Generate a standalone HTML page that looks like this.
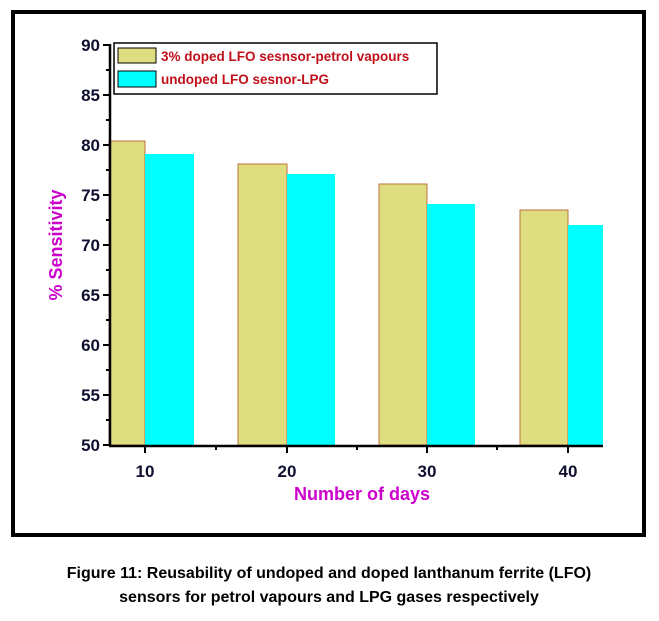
<!DOCTYPE html><html><head><style>body{margin:0;background:#fff;width:659px;height:616px;overflow:hidden}</style></head><body>
<svg width="659" height="616" xmlns="http://www.w3.org/2000/svg" font-family="Liberation Sans, sans-serif">
<rect x="13" y="12" width="631" height="523" fill="#fff" stroke="#000" stroke-width="4"/>
<g stroke="#c07040" stroke-width="1">
<rect x="109" y="141" width="36" height="304" fill="#dede80"/>
<rect x="145" y="154" width="49" height="291" fill="#00ffff" stroke="none"/>
<rect x="238" y="164" width="49" height="281" fill="#dede80"/>
<rect x="287" y="174" width="48" height="271" fill="#00ffff" stroke="none"/>
<rect x="379" y="184" width="48" height="261" fill="#dede80"/>
<rect x="427" y="204" width="48" height="241" fill="#00ffff" stroke="none"/>
<rect x="520" y="210" width="48" height="235" fill="#dede80"/>
<rect x="568" y="225" width="35" height="220" fill="#00ffff" stroke="none"/>
</g>
<g stroke="#000" stroke-width="2.5" fill="none">
<line x1="110" y1="44" x2="110" y2="446"/>
<line x1="109" y1="446" x2="603" y2="446"/>
</g>
<g stroke="#000" stroke-width="2">
<line x1="103" y1="45" x2="110" y2="45"/><line x1="103" y1="95" x2="110" y2="95"/><line x1="103" y1="145" x2="110" y2="145"/><line x1="103" y1="195" x2="110" y2="195"/><line x1="103" y1="245" x2="110" y2="245"/><line x1="103" y1="295" x2="110" y2="295"/><line x1="103" y1="345" x2="110" y2="345"/><line x1="103" y1="395" x2="110" y2="395"/><line x1="103" y1="445" x2="110" y2="445"/>
<line x1="106" y1="70" x2="110" y2="70"/><line x1="106" y1="120" x2="110" y2="120"/><line x1="106" y1="170" x2="110" y2="170"/><line x1="106" y1="220" x2="110" y2="220"/><line x1="106" y1="270" x2="110" y2="270"/><line x1="106" y1="320" x2="110" y2="320"/><line x1="106" y1="370" x2="110" y2="370"/><line x1="106" y1="420" x2="110" y2="420"/>
<line x1="145" y1="446" x2="145" y2="453"/><line x1="287" y1="446" x2="287" y2="453"/><line x1="427" y1="446" x2="427" y2="453"/><line x1="568" y1="446" x2="568" y2="453"/>
<line x1="216" y1="446" x2="216" y2="450"/><line x1="357" y1="446" x2="357" y2="450"/><line x1="497" y1="446" x2="497" y2="450"/>
</g>
<g font-size="17" font-weight="bold" fill="#101030" text-anchor="end">
<text x="100" y="51">90</text><text x="100" y="101">85</text><text x="100" y="151">80</text><text x="100" y="201">75</text><text x="100" y="251">70</text><text x="100" y="301">65</text><text x="100" y="351">60</text><text x="100" y="401">55</text><text x="100" y="451">50</text>
</g>
<g font-size="17" font-weight="bold" fill="#101030" text-anchor="middle">
<text x="145" y="477">10</text><text x="287" y="477">20</text><text x="427" y="477">30</text><text x="568" y="477">40</text>
</g>
<text x="362" y="500" font-size="18" font-weight="bold" fill="#cc00cc" text-anchor="middle">Number of days</text>
<text transform="translate(62,245) rotate(-90)" font-size="18" font-weight="bold" fill="#cc00cc" text-anchor="middle">% Sensitivity</text>
<rect x="114" y="43" width="323" height="51" fill="#fff" stroke="#000" stroke-width="1.5"/>
<rect x="118" y="48" width="38" height="15" fill="#dede80" stroke="#000"/>
<rect x="118" y="71" width="38" height="16" fill="#00ffff" stroke="#000"/>
<text x="161" y="61" font-size="13.5" font-weight="bold" fill="#c0101a">3% doped LFO sesnsor-petrol vapours</text>
<text x="161" y="84" font-size="13.5" font-weight="bold" fill="#c0101a">undoped LFO sesnor-LPG</text>
<text x="329" y="578" font-size="16" font-weight="bold" fill="#000" text-anchor="middle">Figure 11: Reusability of undoped and doped lanthanum ferrite (LFO)</text>
<text x="329" y="602" font-size="16" font-weight="bold" fill="#000" text-anchor="middle">sensors for petrol vapours and LPG gases respectively</text>
</svg>
</body></html>
